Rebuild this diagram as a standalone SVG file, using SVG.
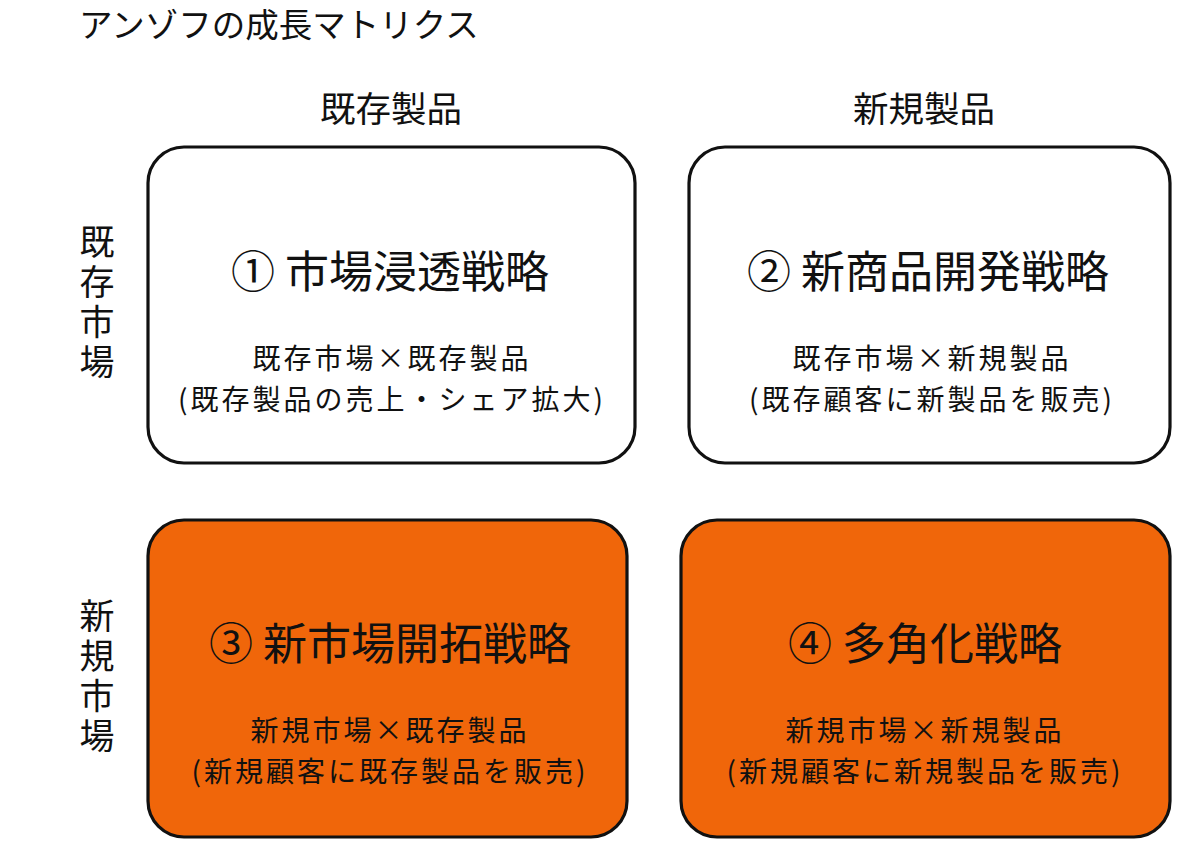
<svg xmlns="http://www.w3.org/2000/svg" width="1200" height="857" viewBox="0 0 1200 857">
<style>
text{font-family:"Noto Sans CJK JP","Noto Sans CJK SC",sans-serif;fill:#111;}
.box{stroke:#111;stroke-width:3.2;}
.white{fill:#fff;}
.orange{fill:#F0660A;}
.title{font-size:44px;text-anchor:middle;}
.sub{font-size:28px;text-anchor:middle;letter-spacing:3px;}
.head{font-size:35.5px;text-anchor:middle;}
.side{font-size:35px;writing-mode:vertical-rl;letter-spacing:5px;}
</style>
<rect width="1200" height="857" fill="#fff"/>
<text x="79" y="37" font-size="33.5">アンゾフの成長マトリクス</text>
<text class="head" x="391" y="122">既存製品</text>
<text class="head" x="924" y="122">新規製品</text>
<g id="label-existing-market">
<text class="side" x="97" y="224">既存市場</text>
</g>
<g id="label-new-market">
<text class="side" x="97" y="598">新規市場</text>
</g>
<g id="connectors"></g>
<g id="node1">
<rect class="box white" x="148" y="147" width="487" height="316" rx="36"/>
<text class="title" x="390" y="288">① 市場浸透戦略</text>
<text class="sub" x="392" y="369">既存市場×既存製品</text>
<text class="sub" x="392" y="410">(既存製品の売上・シェア拡大)</text>
</g>
<g id="node2">
<rect class="box white" x="689" y="147" width="481" height="316" rx="36"/>
<text class="title" x="928" y="288">② 新商品開発戦略</text>
<text class="sub" x="932" y="369">既存市場×新規製品</text>
<text class="sub" x="932" y="410">(既存顧客に新製品を販売)</text>
</g>
<g id="node3">
<rect class="box orange" x="148" y="520" width="479" height="317" rx="36"/>
<text class="title" x="390" y="660">③ 新市場開拓戦略</text>
<text class="sub" x="390" y="741">新規市場×既存製品</text>
<text class="sub" x="390" y="782">(新規顧客に既存製品を販売)</text>
</g>
<g id="node4">
<rect class="box orange" x="681" y="520" width="489" height="317" rx="36"/>
<text class="title" x="925" y="660">④ 多角化戦略</text>
<text class="sub" x="925" y="741">新規市場×新規製品</text>
<text class="sub" x="925" y="782">(新規顧客に新規製品を販売)</text>
</g>
</svg>
